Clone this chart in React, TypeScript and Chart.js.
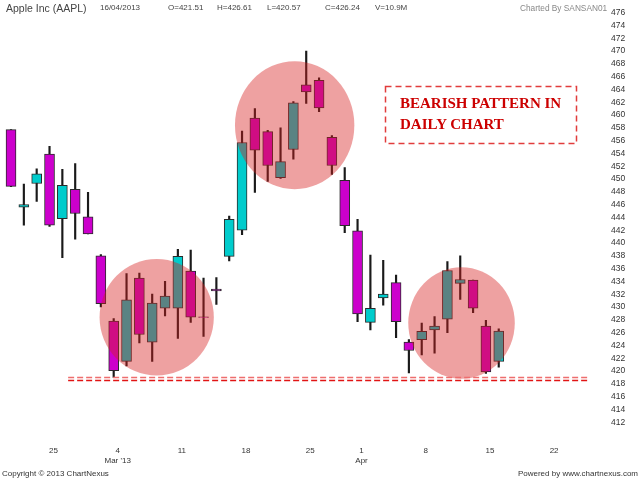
import React, { useRef, useEffect } from 'react';
import { Chart, registerables } from 'chart.js';

Chart.register(...registerables);

// trading days shown on the chart, plus a few empty days on the right
const tradingDays = [
  '2013-02-20', '2013-02-21', '2013-02-22', '2013-02-25', '2013-02-26', '2013-02-27', '2013-02-28',
  '2013-03-01', '2013-03-04', '2013-03-05', '2013-03-06', '2013-03-07', '2013-03-08', '2013-03-11',
  '2013-03-12', '2013-03-13', '2013-03-14', '2013-03-15', '2013-03-18', '2013-03-19', '2013-03-20',
  '2013-03-21', '2013-03-22', '2013-03-25', '2013-03-26', '2013-03-27', '2013-03-28', '2013-04-01',
  '2013-04-02', '2013-04-03', '2013-04-04', '2013-04-05', '2013-04-08', '2013-04-09', '2013-04-10',
  '2013-04-11', '2013-04-12', '2013-04-15', '2013-04-16',
];
const futureDays = ['2013-04-17', '2013-04-18', '2013-04-19', '2013-04-22', '2013-04-23', '2013-04-24', '2013-04-25'];

const opens = [
  457.7, 445.6, 449.3, 453.9, 443.8, 448.4, 444.1, 438.0, 427.8, 421.5, 434.5, 424.5, 429.8, 429.8,
  435.6, 428.45, 432.8, 437.9, 442.0, 459.5, 457.4, 450.2, 454.6, 464.7, 465.4, 456.5, 449.8, 441.9,
  427.6, 431.4, 433.8, 424.5, 424.9, 426.4, 428.1, 433.7, 434.2, 427.0, 421.5,
];
const highs = [
  457.7, 449.2, 451.6, 455.1, 451.5, 452.4, 447.9, 438.2, 428.2, 435.2, 435.3, 432.0, 434.0, 439.0,
  438.9, 434.5, 434.6, 444.2, 457.5, 461.0, 457.6, 458.0, 462.1, 470.0, 465.8, 456.8, 451.8, 443.7,
  438.1, 437.3, 435.0, 424.9, 427.5, 428.5, 437.1, 438.0, 434.2, 427.9, 426.6,
];
const lows = [
  448.8, 442.8, 446.5, 442.6, 437.7, 440.6, 441.4, 430.0, 419.0, 420.8, 424.4, 421.5, 428.6, 425.1,
  427.6, 425.4, 430.4, 437.2, 441.3, 447.9, 449.6, 450.1, 453.1, 461.8, 460.5, 450.7, 441.6, 427.7,
  426.4, 430.3, 425.2, 419.7, 422.5, 422.8, 426.0, 431.2, 429.1, 419.6, 420.6,
];
const closes = [
  448.85, 446.0, 450.8, 442.8, 449.0, 444.6, 441.4, 430.5, 420.05, 431.1, 425.7, 430.6, 431.7, 437.9,
  428.4, 428.35, 432.5, 443.7, 455.7, 454.5, 452.1, 452.7, 461.9, 463.6, 461.1, 452.1, 442.7, 428.9,
  429.8, 432.0, 427.7, 423.2, 426.2, 427.0, 435.7, 434.3, 429.8, 419.85, 426.24,
];

// x axis: the Mondays that carry a label
const mondayTicks = ['2013-02-25', '2013-03-04', '2013-03-11', '2013-03-18', '2013-03-25', '2013-04-01', '2013-04-08', '2013-04-15', '2013-04-22'];
const mondayLabels: (string | string[])[] = ['25', ['4', "Mar '13"], '11', '18', '25', ['1', 'Apr'], '8', '15', '22'];

const yTicks = [
  412, 414, 416, 418, 420, 422, 424, 426, 428, 430, 432, 434, 436, 438, 440, 442, 444,
  446, 448, 450, 452, 454, 456, 458, 460, 462, 464, 466, 468, 470, 472, 474, 476,
];

// highlighted zones (centre in index / price units)
const zones = [
  { x: 11.35, y: 428.4, rx: 4.45, ry: 9.1 },
  { x: 22.1, y: 458.4, rx: 4.65, ry: 10.0 },
  { x: 35.1, y: 427.5, rx: 4.15, ry: 8.7 },
];
const supportLevel = 418.75;
const supportFrom = 4.45;
const supportTo = 44.9;

const categories = [...tradingDays, ...futureDays];

const UP = '#00cccc';
const DOWN = '#cc00cc';

const overlayPlugin = {
  id: 'overlay',
  afterDatasetsDraw(chart: any) {
    const { ctx, scales: { x, y } } = chart;
    ctx.save();
    ctx.fillStyle = 'rgba(215, 30, 30, 0.42)';
    zones.forEach((z) => {
      const cx = x.getPixelForValue(z.x);
      const cy = y.getPixelForValue(z.y);
      const rx = Math.abs(x.getPixelForValue(z.x + z.rx) - cx);
      const ry = Math.abs(y.getPixelForValue(z.y + z.ry) - cy);
      ctx.beginPath();
      ctx.ellipse(cx, cy, rx, ry, 0, 0, Math.PI * 2);
      ctx.fill();
    });

    const x0 = x.getPixelForValue(supportFrom);
    const x1 = x.getPixelForValue(supportTo);
    const ly = y.getPixelForValue(supportLevel);
    ctx.setLineDash([6, 3]);
    ctx.lineWidth = 1.5;
    ctx.strokeStyle = 'rgb(238, 110, 110)';
    ctx.beginPath();
    ctx.moveTo(x0, ly - 1.5);
    ctx.lineTo(x1, ly - 1.5);
    ctx.stroke();
    ctx.strokeStyle = 'rgb(225, 20, 20)';
    ctx.beginPath();
    ctx.moveTo(x0, ly + 1.5);
    ctx.lineTo(x1, ly + 1.5);
    ctx.stroke();

    // dashed frame of the note
    ctx.setLineDash([6, 4]);
    ctx.lineWidth = 1.5;
    ctx.strokeStyle = 'rgb(225, 60, 60)';
    ctx.strokeRect(385.5, 86.5, 191, 57);
    ctx.restore();
  },
};

const textStyle: React.CSSProperties = {
  position: 'absolute',
  fontFamily: '"Liberation Sans", Arial, sans-serif',
  fontSize: 8,
  lineHeight: '10px',
  color: '#444',
  whiteSpace: 'nowrap',
};

const header = [
  { text: 'Apple Inc (AAPL)', left: 6, size: 10.5 },
  { text: '16/04/2013', left: 100, size: 8 },
  { text: 'O=421.51', left: 168, size: 8 },
  { text: 'H=426.61', left: 217, size: 8 },
  { text: 'L=420.57', left: 267, size: 8 },
  { text: 'C=426.24', left: 325, size: 8 },
  { text: 'V=10.9M', left: 375, size: 8 },
];

const App: React.FC = () => {
  const canvasRef = useRef<HTMLCanvasElement>(null);

  useEffect(() => {
    if (!canvasRef.current) return;
    const chart = new Chart(canvasRef.current, {
      type: 'bar',
      data: {
        labels: categories,
        datasets: [
          {
            label: 'body',
            data: opens.map((o, i) => [o, closes[i]]),
            backgroundColor: opens.map((o, i) => (closes[i] >= o ? UP : DOWN)),
            borderColor: '#2a2a2a',
            borderWidth: 1,
            borderSkipped: false,
            barThickness: 10,
            grouped: false,
            order: 0,
          },
          {
            label: 'wick',
            data: lows.map((l, i) => [l, highs[i]]),
            backgroundColor: '#1a1a1a',
            borderWidth: 0,
            barThickness: 1.5,
            grouped: false,
            order: 1,
          },
        ],
      } as any,
      options: {
        responsive: false,
        maintainAspectRatio: false,
        animation: false,
        layout: { padding: { left: 4.6, top: 4, right: 0, bottom: 0 } },
        plugins: { legend: { display: false }, tooltip: { enabled: false } },
        scales: {
          x: {
            type: 'category',
            offset: true,
            grid: { display: false, drawTicks: false },
            border: { display: false },
            ticks: {
              autoSkip: false,
              maxRotation: 0,
              padding: 10,
              labelOffset: 4,
              color: '#333',
              font: { family: '"Liberation Sans", Arial, sans-serif', size: 8 },
              callback: (_v: any, index: number) => {
                const k = mondayTicks.indexOf(categories[index]);
                return k >= 0 ? mondayLabels[k] : '';
              },
            },
            afterFit: (s: any) => {
              s.height = 44;
              s.paddingLeft = 0;
              s.paddingRight = 0;
            },
          },
          y: {
            position: 'right',
            min: 409.84,
            max: 477.34,
            grid: { display: false, drawTicks: false },
            border: { display: false },
            ticks: {
              autoSkip: false,
              padding: 16,
              color: '#333',
              font: { family: '"Liberation Sans", Arial, sans-serif', size: 8.5 },
            },
            afterBuildTicks: (s: any) => {
              s.ticks = yTicks.map((v) => ({ value: v }));
            },
            afterFit: (s: any) => {
              s.width = 45;
              s.paddingTop = 0;
              s.paddingBottom = 0;
            },
          },
        },
      } as any,
      plugins: [overlayPlugin],
    });
    return () => {
      chart.destroy();
    };
  }, []);

  return (
    <div style={{ position: 'fixed', left: 0, top: 0, width: 640, height: 480, background: '#fff' }}>
      <canvas ref={canvasRef} width={640} height={480} style={{ position: 'absolute', left: 0, top: 0 }} />
      {header.map((h) => (
        <div key={h.text} style={{ ...textStyle, left: h.left, top: 2.5, fontSize: h.size }}>
          {h.text}
        </div>
      ))}
      <div style={{ ...textStyle, left: 520, top: 2.5, color: '#888', fontSize: 8.3 }}>Charted By SANSAN01</div>
      <div style={{ ...textStyle, left: 2, top: 469, color: '#333' }}>Copyright © 2013 ChartNexus</div>
      <div style={{ ...textStyle, right: 2, top: 469, color: '#333' }}>Powered by www.chartnexus.com</div>
      <div
        style={{
          position: 'absolute',
          left: 400,
          top: 93,
          fontFamily: '"Liberation Serif", "Times New Roman", serif',
          fontWeight: 'bold',
          fontSize: 15,
          lineHeight: '21px',
          color: '#cc0000',
          whiteSpace: 'nowrap',
        }}
      >
        BEARISH PATTERN IN
        <br />
        DAILY CHART
      </div>
    </div>
  );
};

export default App;
